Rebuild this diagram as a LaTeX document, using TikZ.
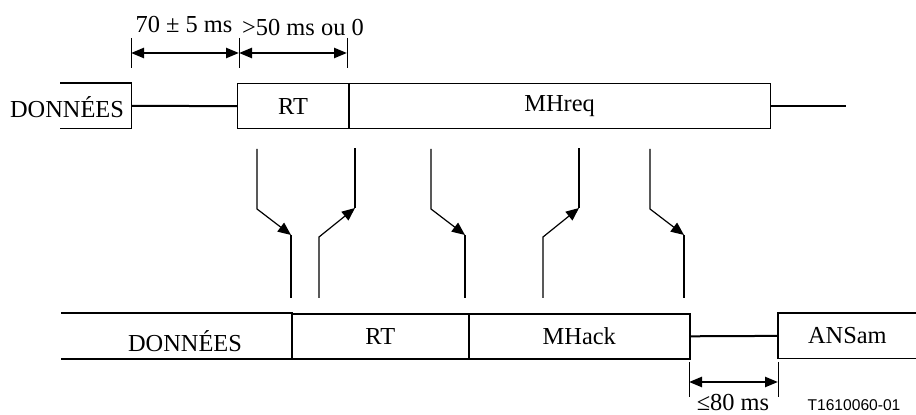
\documentclass[tikz,border=0pt]{standalone}
\usepackage{fontspec}
\setmainfont{Liberation Serif}
\newfontfamily\refsans{Liberation Sans}
\usetikzlibrary{arrows.meta}

\begin{document}
\begin{tikzpicture}[x=0.5pt,y=-0.5pt,
	font=\fontsize{12.2}{14}\selectfont,
	frame/.style={draw,line width=0.6pt,anchor=north west,inner sep=0pt,minimum height=22.5pt},
	open/.style={anchor=north west,inner sep=0pt,minimum height=22.5pt},
	link/.style={line width=1pt},
	tick/.style={line width=0.5pt},
	dim/.style={line width=1.2pt,{Triangle[length=6.5pt,width=5pt]}-{Triangle[length=6.5pt,width=5pt]}},
	thinpart/.style={line width=0.6pt,-{Triangle[length=6.5pt,width=5.5pt]}},
	thickpart/.style={line width=1.4pt}]

	\useasboundingbox (0,0) rectangle (916,415);

	% top row
	\node[open,minimum width=35.5pt] (dtop) at (60,83) {};
	\node (dtoptext) at (67,107) {DONNÉES};
	\draw[line width=0.6pt] (dtop.north west) -- (dtop.north east) -- (dtop.south east) -- (dtop.south west);
	\node[frame,minimum width=55.5pt] (rtone) at (237,83) {RT};
	\node[frame,minimum width=211pt] (mhreq) at (348,83) {MHreq};
	\draw[line width=1.2pt] (rtone.north east) -- (rtone.south east);
	\coordinate (endtop) at ([xshift=37.5pt]mhreq.east);
	\draw[link] (dtop.east) -- (rtone.west);
	\draw[link] (mhreq.east) -- (endtop);

	% bottom row
	\node[open,minimum width=115pt] (dbot) at (61,313) {};
	\node (dbottext) at (185,341) {DONNÉES};
	\draw[line width=0.8pt] (dbot.north west) -- (dbot.north east) -- (dbot.south east) -- (dbot.south west);
	\node[frame,line width=0.8pt,minimum width=88.5pt] (rttwo) at (291,313) {RT};
	\node[frame,line width=0.8pt,minimum width=110.5pt] (mhack) at (468,313) {MHack};
	\node[open,minimum width=69pt] (ansam) at (778,313) {ANSam};
	\draw[line width=0.6pt] (ansam.north east) -- (ansam.north west) -- (ansam.south west) -- (ansam.south east);
	\draw[link] (mhack.east) -- (ansam.west);

	% times
	\coordinate (ta) at (131,38);
	\coordinate (tb) at (239,38);
	\coordinate (tc) at (347,38);
	\draw[tick] (ta) -- ++(0,30);
	\draw[tick] (tb) -- ++(0,30);
	\draw[tick] (tc) -- ++(0,30);
	\draw[dim] ([yshift=-7.5pt]ta) -- ([yshift=-7.5pt]tb);
	\draw[dim] ([yshift=-7.5pt]tb) -- ([yshift=-7.5pt]tc);
	\node (tone) at (184,25) {70 ± 5 ms};
	\node (ttwo) at (303,28) {>50 ms ou 0};

	\coordinate (td) at (689,362);
	\coordinate (te) at (778,362);
	\draw[tick] (td) -- ++(0,35);
	\draw[tick] (te) -- ++(0,35);
	\draw[dim] ([yshift=-10pt]td) -- ([yshift=-10pt]te);
	\node (tthree) at (733,403) {≤80 ms};
	\node[font=\refsans\fontsize{7.8}{9}\selectfont] (figref) at (854,405) {T1610060-01};

	% arrows between rows
	\foreach \x in {257,431,650} {
		\draw[thinpart] (\x,149) -- (\x,209) -- (\x+34,235);
		\draw[thickpart] (\x+34,235) -- (\x+34,298);
	}
	\foreach \x in {319,543} {
		\draw[thinpart] (\x,298) -- (\x,237) -- (\x+36,208);
		\draw[thickpart] (\x+36,208) -- (\x+36,148);
	}

\end{tikzpicture}
\end{document}
